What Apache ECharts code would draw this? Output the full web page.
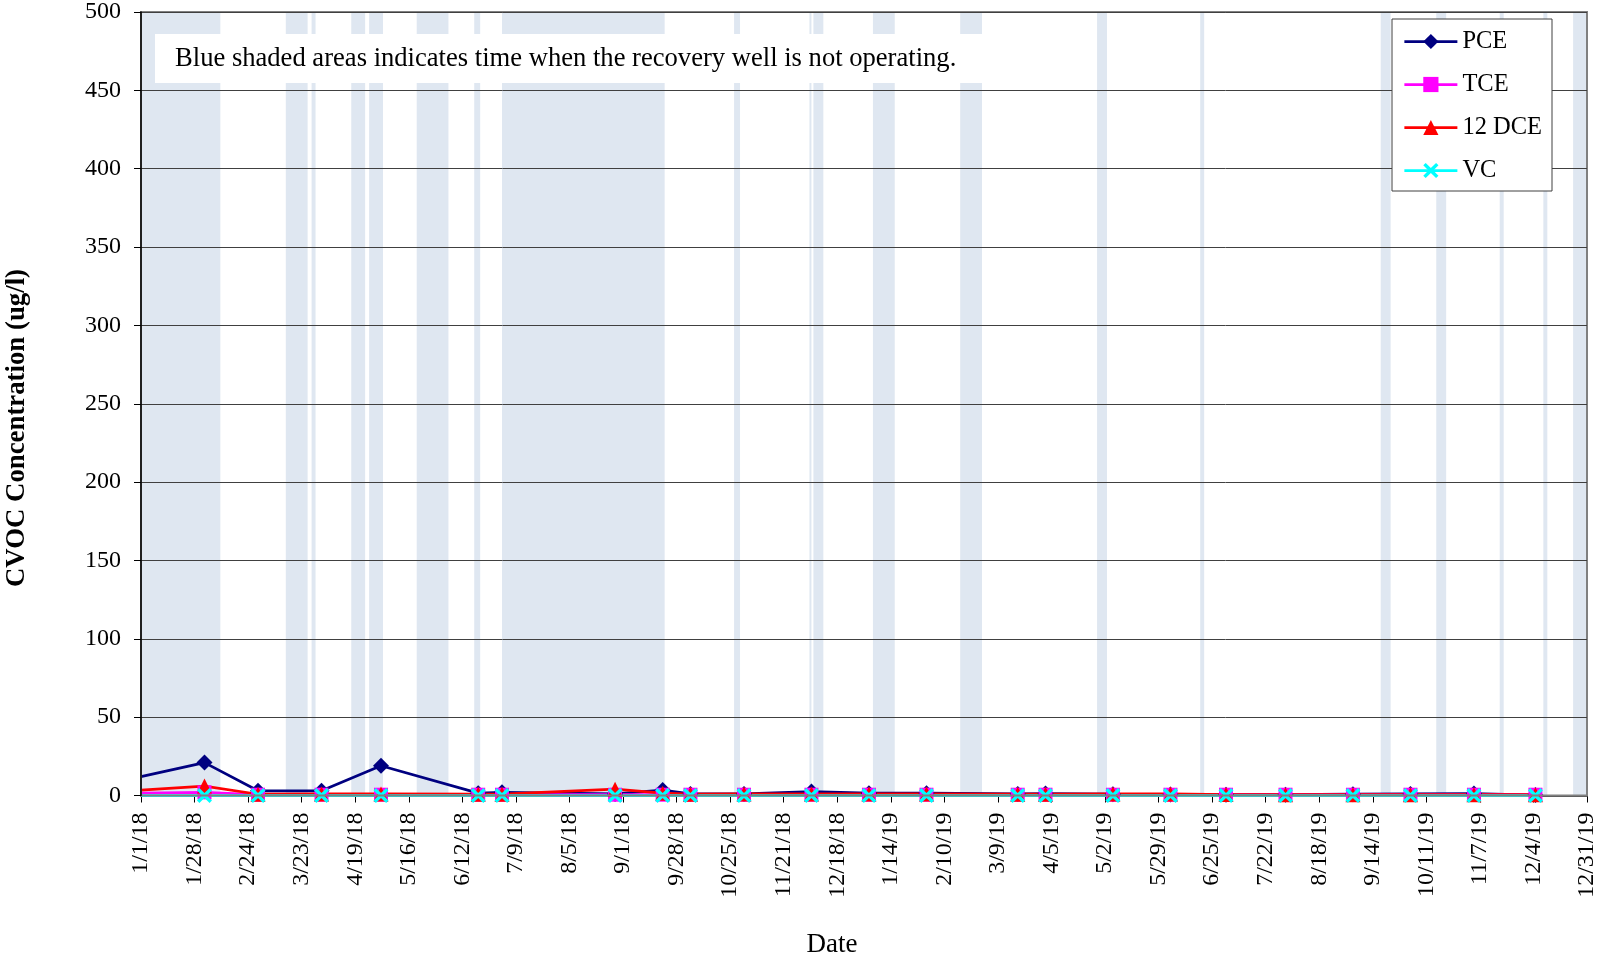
<!DOCTYPE html>
<html>
<head>
<meta charset="utf-8">
<script src="https://cdn.jsdelivr.net/npm/echarts/dist/echarts.min.js"></script>
<style>
  html, body { margin: 0; padding: 0; background: #ffffff; }
  #chart { width: 1599px; height: 958px; }
</style>
</head>
<body>
<div id="chart"></div>
<script>
// Sampling dates and CVOC results (ug/l)
const sampleDates = ['2018-01-01', '2018-02-02', '2018-03-01', '2018-04-02', '2018-05-02', '2018-06-20',
  '2018-07-02', '2018-08-28', '2018-09-21', '2018-10-05', '2018-11-01', '2018-12-05',
  '2019-01-03', '2019-02-01', '2019-03-19', '2019-04-02', '2019-05-06', '2019-06-04',
  '2019-07-02', '2019-08-01', '2019-09-04', '2019-10-03', '2019-11-04', '2019-12-05'];
const pce = [12, 21, 3, 3, 19, 1.5, 2, 1, 3.5, 1, 1, 2.5, 1.5, 1.5, 1, 1.2, 0.8, 0.6, 0.5, 0.5, 0.8, 1, 1.2, 0.3];
const tce = [1.5, 2, 0.5, 0.5, 0.5, 0.5, 0.5, 0.5, 0.5, 0.5, 0.5, 0.5, 0.5, 0.5, 0.5, 0.5, 0.5, 0.5, 0.5, 0.5, 0.5, 0.5, 0.5, 0.5];
const dce = [3.5, 6, 0.8, 1, 1, 0.8, 0.8, 4, 1.5, 0.8, 1, 1, 1, 1, 0.8, 0.8, 1, 1, 0.6, 0.5, 0.5, 0.5, 0.5, 0.5];
const vc = [0, 0, 0, 0, 0, 0, 0, 0, 0, 0, 0, 0, 0, 0, 0, 0, 0, 0, 0, 0, 0, 0, 0, 0];

// Periods when the recovery well was shut down
const downtime = [
  ['2018-01-01', '2018-02-10'], ['2018-03-15', '2018-03-26'], ['2018-03-28', '2018-03-30'],
  ['2018-04-17', '2018-04-24'], ['2018-04-26', '2018-05-03'], ['2018-05-20', '2018-06-05'],
  ['2018-06-18', '2018-06-21'], ['2018-07-02', '2018-09-22'], ['2018-10-27', '2018-10-30'],
  ['2018-12-04', '2018-12-05'], ['2018-12-06', '2018-12-11'], ['2019-01-05', '2019-01-16'],
  ['2019-02-18', '2019-03-01'], ['2019-04-28', '2019-05-03'], ['2019-06-19', '2019-06-21'],
  ['2019-09-18', '2019-09-23'], ['2019-10-16', '2019-10-21'], ['2019-11-17', '2019-11-19'],
  ['2019-12-09', '2019-12-11'], ['2019-12-24', '2019-12-31']
];

// Axis range: 1/1/18 .. 12/31/19, ticks every 27 days
const startDate = '2018-01-01';
const endDate = '2019-12-31';
const tickDays = 27;

const DAY = 86400000;
function toUTC(s) {
  const p = s.split('-').map(Number);
  return Date.UTC(p[0], p[1] - 1, p[2]);
}
const t0 = toUTC(startDate);
function dayOf(s) { return (toUTC(s) - t0) / DAY; }
function fmtDay(v) {
  const d = new Date(t0 + Math.round(v) * DAY);
  return (d.getUTCMonth() + 1) + '/' + d.getUTCDate() + '/' + String(d.getUTCFullYear()).slice(2);
}

const FONT = "'Times New Roman', 'Liberation Serif', serif";
const xs = sampleDates.map(dayOf);
function seriesData(vals) {
  return vals.map((v, i) => i === 0 ? { value: [xs[i], v], symbol: 'none' } : [xs[i], v]);
}

const xMark = 'path://M0,1.6L1.6,0L5,3.4L8.4,0L10,1.6L6.6,5L10,8.4L8.4,10L5,6.6L1.6,10L0,8.4L3.4,5Z';

const chart = echarts.init(document.getElementById('chart'), null, { renderer: 'canvas' });
chart.setOption({
  animation: false,
  backgroundColor: '#ffffff',
  textStyle: { fontFamily: FONT },
  grid: {
    left: 141, right: 10, top: 10, bottom: 162.5,
    show: true, z: 3, borderColor: '#808080', borderWidth: 2, backgroundColor: 'transparent'
  },
  legend: {
    orient: 'vertical',
    left: 1392, top: 19,
    z: 10,
    backgroundColor: '#ffffff',
    borderColor: '#404040', borderWidth: 1,
    padding: [10, 10, 8, 11],
    itemWidth: 53, itemHeight: 19, itemGap: 18,
    lineStyle: { width: 2.75 },
    textStyle: { fontFamily: FONT, fontSize: 24.5, color: '#000', lineHeight: 25 },
    data: ['PCE', 'TCE', '12 DCE', 'VC']
  },
  xAxis: {
    type: 'value',
    min: 0, max: dayOf(endDate), interval: tickDays,
    axisLine: { show: true, onZero: false, lineStyle: { color: '#000', width: 1.5 } },
    axisTick: { show: true, length: 7, lineStyle: { color: '#000', width: 1 } },
    splitLine: { show: false },
    axisLabel: {
      rotate: 90, margin: 17, fontFamily: FONT, fontSize: 24, color: '#000',
      showMinLabel: true, showMaxLabel: true, formatter: fmtDay
    }
  },
  yAxis: {
    type: 'value',
    min: 0, max: 500, interval: 50,
    z: 3,
    axisLine: { show: true, lineStyle: { color: '#000', width: 1.5 } },
    axisTick: { show: true, length: 7, lineStyle: { color: '#000', width: 1 } },
    splitLine: { show: true, showMinLine: false, lineStyle: { color: '#404040', width: 1 } },
    axisLabel: { margin: 20, fontFamily: FONT, fontSize: 24, color: '#000' }
  },
  graphic: [
    {
      type: 'rect', z: 20,
      shape: { x: 155, y: 34, width: 941, height: 49 },
      style: { fill: '#ffffff' }
    },
    {
      type: 'text', z: 21, x: 175, y: 59,
      style: {
        text: 'Blue shaded areas indicates time when the recovery well is not operating.',
        font: '26.6px ' + FONT, fill: '#000', textAlign: 'left', textVerticalAlign: 'middle'
      }
    },
    {
      type: 'text', z: 21, x: 17, y: 428, rotation: Math.PI / 2,
      style: {
        text: 'CVOC Concentration (ug/l)', font: 'bold 26.8px ' + FONT, fill: '#000',
        textAlign: 'center', textVerticalAlign: 'middle'
      }
    },
    {
      type: 'text', z: 21, x: 832, y: 945,
      style: {
        text: 'Date', font: '27px ' + FONT, fill: '#000',
        textAlign: 'center', textVerticalAlign: 'middle'
      }
    }
  ],
  series: [
    {
      name: 'PCE', type: 'line', z: 2,
      data: seriesData(pce),
      color: '#000080',
      lineStyle: { width: 2.75, color: '#000080' },
      symbol: 'diamond', symbolSize: 16, showAllSymbol: true,
      markArea: {
        silent: true, z: 1,
        itemStyle: { color: '#dfe7f1' },
        data: downtime.map(r => [{ xAxis: dayOf(r[0]) }, { xAxis: dayOf(r[1]) }])
      }
    },
    {
      name: 'TCE', type: 'line', z: 2,
      data: seriesData(tce),
      color: '#ff00ff',
      lineStyle: { width: 2.75, color: '#ff00ff' },
      symbol: 'rect', symbolSize: 14, showAllSymbol: true
    },
    {
      name: '12 DCE', type: 'line', z: 2,
      data: seriesData(dce),
      color: '#ff0000',
      lineStyle: { width: 2.75, color: '#ff0000' },
      symbol: 'triangle', symbolSize: 15, showAllSymbol: true
    },
    {
      name: 'VC', type: 'line', z: 2,
      data: seriesData(vc),
      color: '#00ffff',
      lineStyle: { width: 2.75, color: '#00ffff' },
      symbol: xMark, symbolSize: 15, showAllSymbol: true
    }
  ]
});
</script>
</body>
</html>
